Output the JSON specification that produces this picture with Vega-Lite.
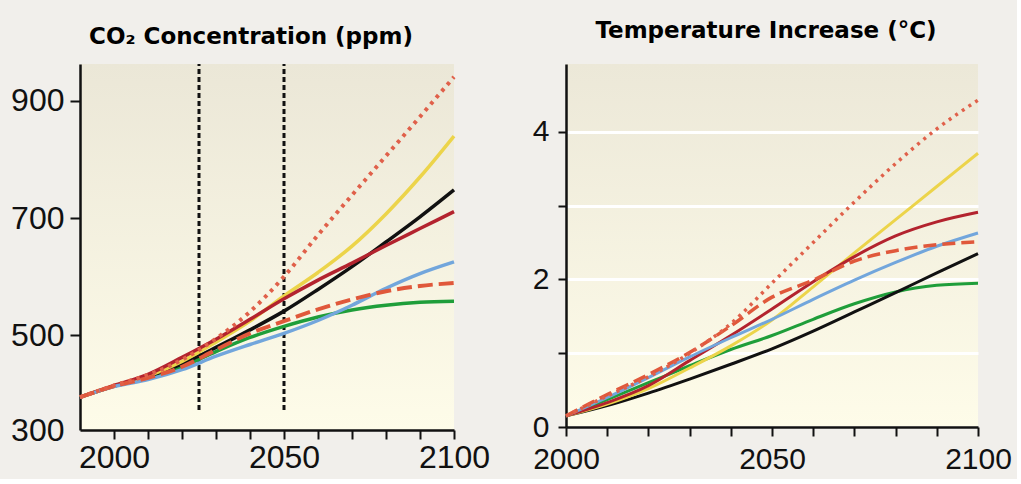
{
  "$schema": "https://vega.github.io/schema/vega-lite/v6.json",
  "background": "#f1efeb",
  "padding": {"left": 10, "top": 20, "right": 5, "bottom": 5},
  "autosize": {"type": "pad"},
  "spacing": 112,
  "bounds": "flush",
  "config": {
    "axis": {
      "domainColor": "#111111",
      "domainWidth": 2.5,
      "tickColor": "#111111",
      "tickWidth": 2,
      "labelColor": "#111111",
      "labelFont": "Liberation Sans",
      "labelOverlap": false,
      "labelFlush": false,
      "title": null
    },
    "title": {"font": "DejaVu Sans", "fontWeight": "bold", "fontSize": 23, "color": "#000000", "anchor": "middle"}
  },
  "datasets": {
    "co2": [
      {"year": 1990, "series": "dotted", "ppm": 394}, {"year": 2000, "series": "dotted", "ppm": 414}, {"year": 2010, "series": "dotted", "ppm": 432}, {"year": 2020, "series": "dotted", "ppm": 458}, {"year": 2030, "series": "dotted", "ppm": 494}, {"year": 2040, "series": "dotted", "ppm": 540}, {"year": 2050, "series": "dotted", "ppm": 600}, {"year": 2060, "series": "dotted", "ppm": 671}, {"year": 2070, "series": "dotted", "ppm": 739}, {"year": 2080, "series": "dotted", "ppm": 806}, {"year": 2090, "series": "dotted", "ppm": 873}, {"year": 2100, "series": "dotted", "ppm": 941},
      {"year": 1990, "series": "dashed", "ppm": 394}, {"year": 2000, "series": "dashed", "ppm": 413}, {"year": 2010, "series": "dashed", "ppm": 427}, {"year": 2020, "series": "dashed", "ppm": 446}, {"year": 2030, "series": "dashed", "ppm": 475}, {"year": 2040, "series": "dashed", "ppm": 503}, {"year": 2050, "series": "dashed", "ppm": 524}, {"year": 2060, "series": "dashed", "ppm": 544}, {"year": 2070, "series": "dashed", "ppm": 561}, {"year": 2080, "series": "dashed", "ppm": 575}, {"year": 2090, "series": "dashed", "ppm": 584}, {"year": 2100, "series": "dashed", "ppm": 589},
      {"year": 1990, "series": "green", "ppm": 394}, {"year": 2000, "series": "green", "ppm": 413}, {"year": 2010, "series": "green", "ppm": 427}, {"year": 2020, "series": "green", "ppm": 446}, {"year": 2030, "series": "green", "ppm": 472}, {"year": 2040, "series": "green", "ppm": 496}, {"year": 2050, "series": "green", "ppm": 515}, {"year": 2060, "series": "green", "ppm": 531}, {"year": 2070, "series": "green", "ppm": 543}, {"year": 2080, "series": "green", "ppm": 551}, {"year": 2090, "series": "green", "ppm": 556}, {"year": 2100, "series": "green", "ppm": 558},
      {"year": 1990, "series": "black", "ppm": 394}, {"year": 2000, "series": "black", "ppm": 413}, {"year": 2010, "series": "black", "ppm": 429}, {"year": 2020, "series": "black", "ppm": 451}, {"year": 2030, "series": "black", "ppm": 479}, {"year": 2040, "series": "black", "ppm": 509}, {"year": 2050, "series": "black", "ppm": 541}, {"year": 2060, "series": "black", "ppm": 578}, {"year": 2070, "series": "black", "ppm": 617}, {"year": 2080, "series": "black", "ppm": 659}, {"year": 2090, "series": "black", "ppm": 702}, {"year": 2100, "series": "black", "ppm": 748},
      {"year": 1990, "series": "yellow", "ppm": 394}, {"year": 2000, "series": "yellow", "ppm": 413}, {"year": 2010, "series": "yellow", "ppm": 430}, {"year": 2020, "series": "yellow", "ppm": 455}, {"year": 2030, "series": "yellow", "ppm": 488}, {"year": 2040, "series": "yellow", "ppm": 524}, {"year": 2050, "series": "yellow", "ppm": 567}, {"year": 2060, "series": "yellow", "ppm": 607}, {"year": 2070, "series": "yellow", "ppm": 652}, {"year": 2080, "series": "yellow", "ppm": 707}, {"year": 2090, "series": "yellow", "ppm": 770}, {"year": 2100, "series": "yellow", "ppm": 840},
      {"year": 1990, "series": "darkred", "ppm": 394}, {"year": 2000, "series": "darkred", "ppm": 414}, {"year": 2010, "series": "darkred", "ppm": 433}, {"year": 2020, "series": "darkred", "ppm": 462}, {"year": 2030, "series": "darkred", "ppm": 493}, {"year": 2040, "series": "darkred", "ppm": 527}, {"year": 2050, "series": "darkred", "ppm": 562}, {"year": 2060, "series": "darkred", "ppm": 594}, {"year": 2070, "series": "darkred", "ppm": 623}, {"year": 2080, "series": "darkred", "ppm": 653}, {"year": 2090, "series": "darkred", "ppm": 682}, {"year": 2100, "series": "darkred", "ppm": 711},
      {"year": 1990, "series": "blue", "ppm": 394}, {"year": 2000, "series": "blue", "ppm": 412}, {"year": 2010, "series": "blue", "ppm": 424}, {"year": 2020, "series": "blue", "ppm": 441}, {"year": 2030, "series": "blue", "ppm": 464}, {"year": 2040, "series": "blue", "ppm": 484}, {"year": 2050, "series": "blue", "ppm": 503}, {"year": 2060, "series": "blue", "ppm": 525}, {"year": 2070, "series": "blue", "ppm": 551}, {"year": 2080, "series": "blue", "ppm": 580}, {"year": 2090, "series": "blue", "ppm": 605}, {"year": 2100, "series": "blue", "ppm": 625}
    ],
    "markers": [
      {"year": 2025, "ppm": 372, "ppm2": 963},
      {"year": 2050, "ppm": 372, "ppm2": 963}
    ],
    "temp": [
      {"year": 2000, "series": "dotted", "t": 0.15}, {"year": 2010, "series": "dotted", "t": 0.42}, {"year": 2020, "series": "dotted", "t": 0.68}, {"year": 2030, "series": "dotted", "t": 1.0}, {"year": 2040, "series": "dotted", "t": 1.4}, {"year": 2050, "series": "dotted", "t": 1.95}, {"year": 2060, "series": "dotted", "t": 2.5}, {"year": 2070, "series": "dotted", "t": 3.05}, {"year": 2080, "series": "dotted", "t": 3.57}, {"year": 2090, "series": "dotted", "t": 4.04}, {"year": 2100, "series": "dotted", "t": 4.43},
      {"year": 2000, "series": "dashed", "t": 0.15}, {"year": 2010, "series": "dashed", "t": 0.44}, {"year": 2020, "series": "dashed", "t": 0.71}, {"year": 2030, "series": "dashed", "t": 1.01}, {"year": 2040, "series": "dashed", "t": 1.37}, {"year": 2050, "series": "dashed", "t": 1.76}, {"year": 2060, "series": "dashed", "t": 1.99}, {"year": 2070, "series": "dashed", "t": 2.25}, {"year": 2080, "series": "dashed", "t": 2.39}, {"year": 2090, "series": "dashed", "t": 2.47}, {"year": 2100, "series": "dashed", "t": 2.51},
      {"year": 2000, "series": "green", "t": 0.15}, {"year": 2010, "series": "green", "t": 0.37}, {"year": 2020, "series": "green", "t": 0.6}, {"year": 2030, "series": "green", "t": 0.83}, {"year": 2040, "series": "green", "t": 1.05}, {"year": 2050, "series": "green", "t": 1.24}, {"year": 2060, "series": "green", "t": 1.46}, {"year": 2070, "series": "green", "t": 1.67}, {"year": 2080, "series": "green", "t": 1.83}, {"year": 2090, "series": "green", "t": 1.92}, {"year": 2100, "series": "green", "t": 1.95},
      {"year": 2000, "series": "black", "t": 0.15}, {"year": 2010, "series": "black", "t": 0.29}, {"year": 2020, "series": "black", "t": 0.46}, {"year": 2030, "series": "black", "t": 0.65}, {"year": 2040, "series": "black", "t": 0.85}, {"year": 2050, "series": "black", "t": 1.06}, {"year": 2060, "series": "black", "t": 1.3}, {"year": 2070, "series": "black", "t": 1.56}, {"year": 2080, "series": "black", "t": 1.82}, {"year": 2090, "series": "black", "t": 2.09}, {"year": 2100, "series": "black", "t": 2.35},
      {"year": 2000, "series": "yellow", "t": 0.15}, {"year": 2010, "series": "yellow", "t": 0.31}, {"year": 2020, "series": "yellow", "t": 0.52}, {"year": 2030, "series": "yellow", "t": 0.8}, {"year": 2040, "series": "yellow", "t": 1.1}, {"year": 2050, "series": "yellow", "t": 1.45}, {"year": 2060, "series": "yellow", "t": 1.9}, {"year": 2070, "series": "yellow", "t": 2.36}, {"year": 2080, "series": "yellow", "t": 2.81}, {"year": 2090, "series": "yellow", "t": 3.26}, {"year": 2100, "series": "yellow", "t": 3.71},
      {"year": 2000, "series": "darkred", "t": 0.15}, {"year": 2010, "series": "darkred", "t": 0.33}, {"year": 2020, "series": "darkred", "t": 0.56}, {"year": 2030, "series": "darkred", "t": 0.9}, {"year": 2040, "series": "darkred", "t": 1.24}, {"year": 2050, "series": "darkred", "t": 1.6}, {"year": 2060, "series": "darkred", "t": 1.97}, {"year": 2070, "series": "darkred", "t": 2.31}, {"year": 2080, "series": "darkred", "t": 2.59}, {"year": 2090, "series": "darkred", "t": 2.78}, {"year": 2100, "series": "darkred", "t": 2.91},
      {"year": 2000, "series": "blue", "t": 0.15}, {"year": 2010, "series": "blue", "t": 0.4}, {"year": 2020, "series": "blue", "t": 0.67}, {"year": 2030, "series": "blue", "t": 0.95}, {"year": 2040, "series": "blue", "t": 1.21}, {"year": 2050, "series": "blue", "t": 1.46}, {"year": 2060, "series": "blue", "t": 1.73}, {"year": 2070, "series": "blue", "t": 1.99}, {"year": 2080, "series": "blue", "t": 2.23}, {"year": 2090, "series": "blue", "t": 2.45}, {"year": 2100, "series": "blue", "t": 2.63}
    ]
  },
  "hconcat": [
    {
      "width": 374,
      "height": 366,
      "view": {"stroke": null, "fill": {"gradient": "linear", "x1": 0, "y1": 0, "x2": 0, "y2": 1, "stops": [{"offset": 0, "color": "#ebe7d7"}, {"offset": 1, "color": "#fefce9"}]}},
      "title": {"text": "CO₂ Concentration (ppm)", "offset": 14, "dx": -16},
      "encoding": {
        "x": {"field": "year", "type": "quantitative",
          "scale": {"domain": [1990, 2100], "nice": false, "zero": false},
          "axis": {"values": [2000, 2010, 2020, 2030, 2040, 2050, 2060, 2070, 2080, 2090, 2100], "format": "d",
            "labelExpr": "datum.value % 50 === 0 ? datum.label : ''", "grid": false, "tickSize": 9, "labelPadding": 3, "labelFontSize": 32}},
        "y": {"field": "ppm", "type": "quantitative",
          "scale": {"domain": [338, 963], "nice": false, "zero": false},
          "axis": {"values": [338, 500, 700, 900], "labelExpr": "datum.value < 400 ? '300' : datum.label",
            "tickOpacity": {"condition": {"test": "datum.value < 400", "value": 0}, "value": 1},
            "grid": false, "tickSize": 10, "labelPadding": 6, "labelFontSize": 32}}
      },
      "layer": [
        {"data": {"name": "markers"}, "mark": {"type": "rule", "color": "#111111", "strokeWidth": 3, "strokeDash": [5, 3]},
          "encoding": {"y2": {"field": "ppm2"}}},
        {"data": {"name": "co2"}, "transform": [{"filter": "datum.series !== 'dotted' && datum.series !== 'dashed'"}],
          "mark": {"type": "line", "interpolate": "monotone", "strokeWidth": 3.5},
          "encoding": {"color": {"field": "series", "type": "nominal", "legend": null,
            "scale": {"domain": ["green", "black", "yellow", "darkred", "blue"], "range": ["#1f9e3a", "#111111", "#ecd44a", "#b3232e", "#72a6dc"]}}}},
        {"data": {"name": "co2"}, "transform": [{"filter": "datum.series === 'dashed'"}],
          "mark": {"type": "line", "interpolate": "monotone", "strokeWidth": 4, "color": "#e0583b", "strokeDash": [15, 6]}},
        {"data": {"name": "co2"}, "transform": [{"filter": "datum.series === 'dotted'"}],
          "mark": {"type": "line", "interpolate": "monotone", "strokeWidth": 4, "color": "#e0604a", "strokeDash": [3.5, 5]}}
      ]
    },
    {
      "width": 412,
      "height": 363,
      "view": {"stroke": null, "fill": {"gradient": "linear", "x1": 0, "y1": 0, "x2": 0, "y2": 1, "stops": [{"offset": 0, "color": "#ece8d8"}, {"offset": 1, "color": "#fefce9"}]}},
      "title": {"text": "Temperature Increase (°C)", "offset": 21, "dx": -6},
      "data": {"name": "temp"},
      "encoding": {
        "x": {"field": "year", "type": "quantitative",
          "scale": {"domain": [2000, 2100], "nice": false, "zero": false},
          "axis": {"values": [2000, 2010, 2020, 2030, 2040, 2050, 2060, 2070, 2080, 2090, 2100], "format": "d",
            "labelExpr": "datum.value % 50 === 0 ? datum.label : ''", "grid": false, "tickSize": 9, "labelPadding": 8, "labelFontSize": 30}},
        "y": {"field": "t", "type": "quantitative",
          "scale": {"domain": [0, 4.92], "nice": false, "zero": true},
          "axis": {"values": [0, 1, 2, 3, 4], "labelExpr": "datum.value % 2 === 0 ? datum.label : ''",
            "grid": true, "gridColor": "#ffffff", "gridWidth": 3, "gridOpacity": 1,
            "tickSize": 8, "labelPadding": 9, "labelFontSize": 30}}
      },
      "layer": [
        {"transform": [{"filter": "datum.series !== 'dotted' && datum.series !== 'dashed'"}],
          "mark": {"type": "line", "interpolate": "monotone", "strokeWidth": 3},
          "encoding": {"color": {"field": "series", "type": "nominal", "legend": null,
            "scale": {"domain": ["green", "black", "yellow", "darkred", "blue"], "range": ["#1f9e3a", "#111111", "#ecd44a", "#b3232e", "#72a6dc"]}}}},
        {"transform": [{"filter": "datum.series === 'dashed'"}],
          "mark": {"type": "line", "interpolate": "monotone", "strokeWidth": 3.5, "color": "#e0583b", "strokeDash": [13, 6]}},
        {"transform": [{"filter": "datum.series === 'dotted'"}],
          "mark": {"type": "line", "interpolate": "monotone", "strokeWidth": 3.5, "color": "#e0604a", "strokeDash": [3, 5]}}
      ]
    }
  ]
}
